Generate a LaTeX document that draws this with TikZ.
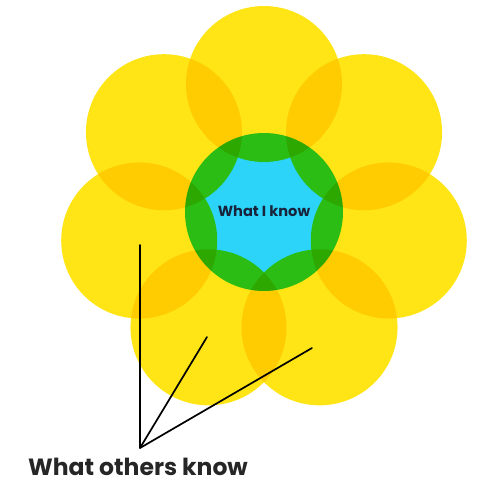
\documentclass[tikz,border=0pt]{standalone}
\usepackage{fontspec}
\setmainfont{Poppins}
\usetikzlibrary{calc}
\definecolor{petal}{RGB}{255,228,22}
\definecolor{core}{RGB}{44,212,250}
\definecolor{inktext}{RGB}{24,36,60}
\tikzset{
  petalfill/.style={fill=petal},
  corefill/.style={fill=core},
  pointer/.style={draw=black, line width=1.7pt, line cap=round, line join=round},
}
\begin{document}
\begin{tikzpicture}[x=1pt,y=-1pt]
\useasboundingbox (0,0) rectangle (477,482);
\coordinate (c) at (264,212);
\begin{scope}[blend group=multiply]
  \fill[corefill] (c) circle[radius=79];
  \foreach \k in {0,...,6}{
    \fill[petalfill] ($(c)+({128*cos(90-\k*360/7)},{-128*sin(90-\k*360/7)})$) circle[radius=78];
  }
\end{scope}
\node[font=\bfseries\fontsize{14.6}{16}\selectfont, text=inktext, inner sep=0pt] (me) at (264,211) {What I know};
\coordinate (v) at (140,448);
\coordinate (p1) at (140,245);
\coordinate (p2) at (207,337);
\coordinate (p3) at (312,348);
\draw[pointer] (p1) -- (v) -- (p3);
\draw[pointer] (v) -- (p2);
\node[font=\bfseries\fontsize{23.5}{26}\selectfont, text=black!85, inner sep=0pt, text depth=0pt, anchor=base] (others) at (138,475) {What others know};
\end{tikzpicture}
\end{document}
